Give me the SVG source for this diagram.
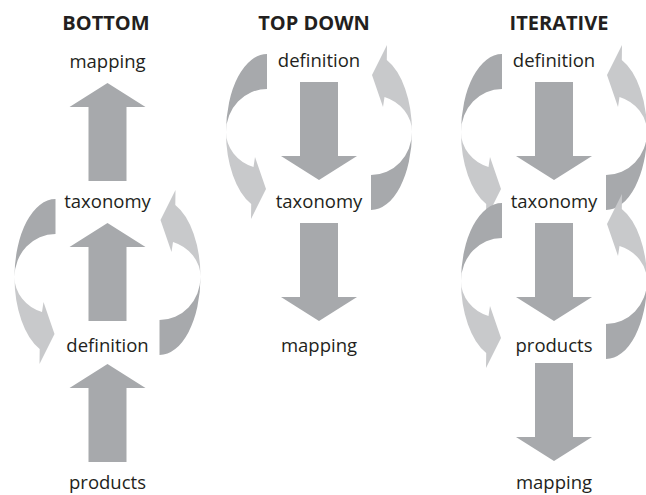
<svg xmlns="http://www.w3.org/2000/svg" width="646" height="495" viewBox="0 0 646 495">
  <style>
    .lbl { font-family: "Open Sans", "Noto Sans", "DejaVu Sans", sans-serif; font-size: 18.5px; fill: #231f20; text-anchor: middle; }
    .ttl { font-family: "Open Sans", "Noto Sans", "DejaVu Sans", sans-serif; font-size: 20px; font-weight: bold; fill: #231f20; text-anchor: middle; }
    .mid { fill: #a7a9ac; }
    .lite { fill: #c8c9cb; }
  </style>
  <defs>
    <path id="up" d="M0 0 L38 24 L19 24 L19 98 L-19 98 L-19 24 L-38 24 Z"/>
    <path id="cdark" d="M-52 -78 A41 78 0 0 0 -93 0 A41 43 0 0 1 -52 -43 Z"/>
    <path id="clight" d="M-93 0 A41 78 0 0 0 -67.8 72 L-68 87 L-53 57 L-64 25 L-65.5 35 A41 37 0 0 1 -93 0 Z"/>
    <g id="cycle">
      <use href="#cdark" class="mid"/>
      <use href="#clight" class="lite"/>
      <g transform="rotate(180)">
        <use href="#cdark" class="mid"/>
        <use href="#clight" class="lite"/>
      </g>
    </g>
  </defs>

  <g id="connectors">
    <!-- BOTTOM column: upward arrows -->
    <use href="#up" class="mid" transform="translate(107.5,83)"/>
    <use href="#up" class="mid" transform="translate(107.5,223)"/>
    <use href="#up" class="mid" transform="translate(107.5,364)"/>
    <use href="#cycle" transform="translate(107.5,277)"/>
    <!-- TOP DOWN column -->
    <use href="#up" class="mid" transform="translate(319,180) rotate(180)"/>
    <use href="#up" class="mid" transform="translate(319,321) rotate(180)"/>
    <use href="#cycle" transform="translate(319,132)"/>
    <!-- ITERATIVE column -->
    <use href="#up" class="mid" transform="translate(554,180) rotate(180)"/>
    <use href="#up" class="mid" transform="translate(554,321) rotate(180)"/>
    <use href="#up" class="mid" transform="translate(554,461) rotate(180)"/>
    <use href="#cycle" transform="translate(554,132)"/>
    <use href="#cycle" transform="translate(554,281)"/>
  </g>

  <g id="title-bottom"><text class="ttl" x="106" y="30">BOTTOM</text></g>
  <g id="title-topdown"><text class="ttl" x="314" y="30">TOP DOWN</text></g>
  <g id="title-iterative"><text class="ttl" x="559" y="30">ITERATIVE</text></g>

  <g id="b-mapping"><text class="lbl" x="107.5" y="68">mapping</text></g>
  <g id="b-taxonomy"><text class="lbl" x="107.5" y="208">taxonomy</text></g>
  <g id="b-definition"><text class="lbl" x="107.5" y="352">definition</text></g>
  <g id="b-products"><text class="lbl" x="107.5" y="489">products</text></g>

  <g id="t-definition"><text class="lbl" x="319" y="67">definition</text></g>
  <g id="t-taxonomy"><text class="lbl" x="319" y="208">taxonomy</text></g>
  <g id="t-mapping"><text class="lbl" x="319" y="352">mapping</text></g>

  <g id="i-definition"><text class="lbl" x="554" y="67">definition</text></g>
  <g id="i-taxonomy"><text class="lbl" x="554" y="208">taxonomy</text></g>
  <g id="i-products"><text class="lbl" x="554" y="352">products</text></g>
  <g id="i-mapping"><text class="lbl" x="554" y="489">mapping</text></g>
</svg>
